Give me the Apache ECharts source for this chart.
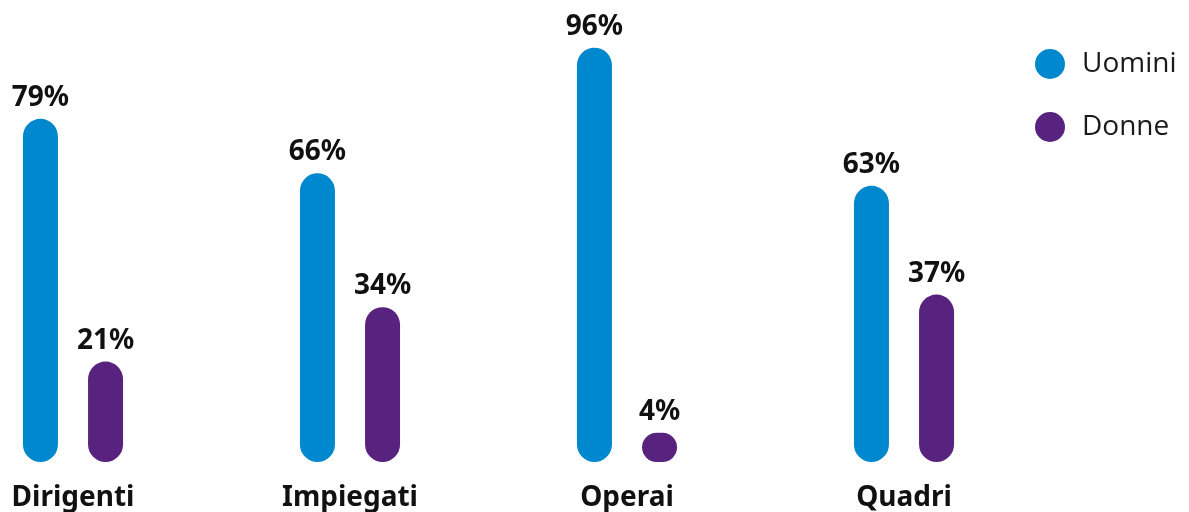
<!DOCTYPE html>
<html lang='it'>
  <head>
    <meta charset='utf-8'>
    <title>Uomini e donne per qualifica</title>
    <style>
      html, body { margin: 0; padding: 0; background: #fff; }
    </style>
  </head>
  <body>
    <div id="main" style="width:1189px;height:512px;"></div>

    <script src="https://cdn.jsdelivr.net/npm/echarts@6/dist/echarts.min.js"></script>
    <script>
      // dati
      var categorie = ['Dirigenti', 'Impiegati', 'Operai', 'Quadri'];
      var uomini = [79, 66, 96, 63];
      var donne = [21, 34, 4, 37];

      var myChart = echarts.init(document.getElementById('main'));

      var labelStyle = {
        show: true,
        position: 'top',
        distance: 7,
        formatter: '{c}%',
        fontFamily: 'Noto Sans',
        fontWeight: 'bold',
        fontSize: 28,
        color: '#111'
      };

      var option = {
        backgroundColor: '#fff',
        animation: false,
        legend: {
          orient: 'vertical',
          left: 1035,
          top: 49,
          padding: 0,
          icon: 'circle',
          itemWidth: 30,
          itemHeight: 30,
          itemGap: 33,
          textStyle: { fontFamily: 'Open Sans', fontSize: 28, color: '#1a1a1a', padding: [0, 0, 0, 12] },
          data: ['Uomini', 'Donne']
        },
        // categorie sui bordi: la prima al centro di x=73
        grid: { left: 73, width: 831, top: 31, bottom: 50, containLabel: false },
        xAxis: {
          type: 'category',
          data: categorie,
          boundaryGap: false,
          axisLine: { show: false },
          axisTick: { show: false },
          axisLabel: {
            margin: 22,
            fontFamily: 'Noto Sans',
            fontWeight: 'bold',
            fontSize: 28,
            color: '#111'
          }
        },
        yAxis: {
          type: 'value',
          min: -3,
          max: 100,
          startValue: -3,
          show: false,
          splitLine: { show: false }
        },
        series: [
          {
            name: 'Uomini',
            type: 'bar',
            data: uomini,
            barWidth: 35,
            barGap: '86%',
            itemStyle: { color: '#0088CE', borderRadius: 17.5 },
            label: labelStyle
          },
          {
            name: 'Donne',
            type: 'bar',
            data: donne,
            barWidth: 35,
            itemStyle: { color: '#58227F', borderRadius: 17.5 },
            label: labelStyle
          }
        ]
      };

      myChart.setOption(option);
    </script>
  </body>
</html>
